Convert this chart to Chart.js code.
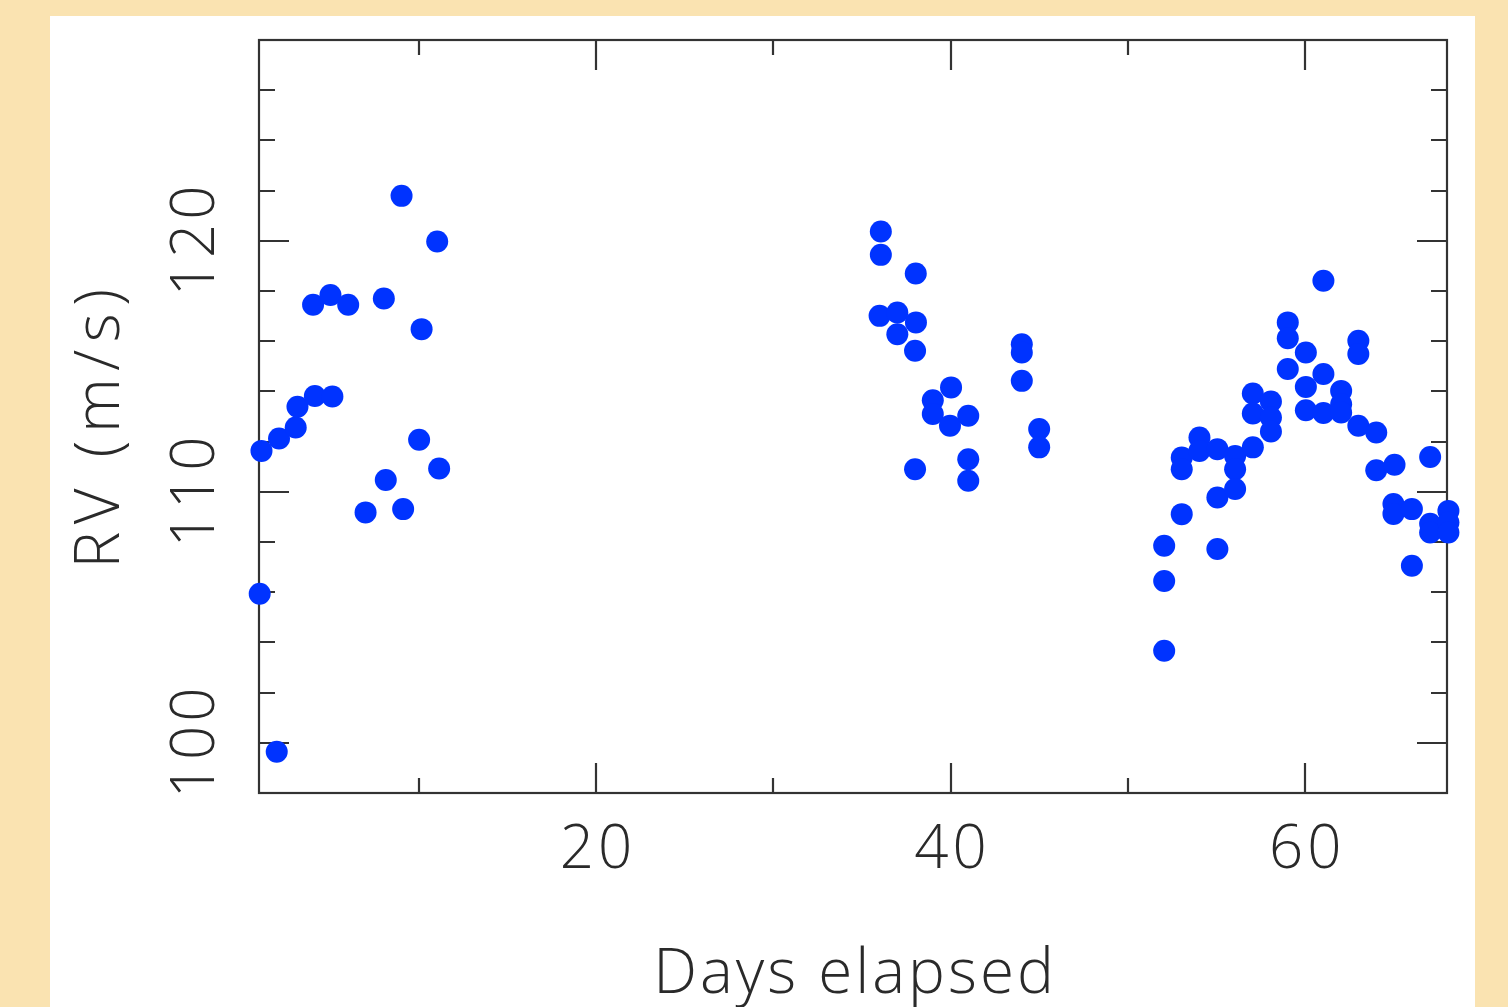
<!DOCTYPE html>
<html>
<head>
<meta charset="utf-8">
<script src="https://cdn.jsdelivr.net/npm/chart.js@4.4.1/dist/chart.umd.min.js"></script>
<style>
  html, body { margin: 0; padding: 0; }
  body { width: 1508px; height: 1007px; background: #fae3b1; position: relative; overflow: hidden; }
  #panel { position: absolute; left: 50px; top: 16px; width: 1425px; height: 991px; background: #ffffff; }
  #rvChart { position: absolute; left: 0; top: 0; }
</style>
</head>
<body>
<div id="panel"></div>
<canvas id="rvChart" width="1508" height="1007"></canvas>
<script>
// days elapsed for each observation
const days = [
  1.14, 1.04, 2.0, 2.13, 3.07, 3.17, 4.05, 4.15, 5.03, 5.14,
  6.03, 7.01, 8.04, 8.15, 9.04, 9.13, 10.03, 10.17, 11.05, 11.16,
  36.07, 36.07, 38.04, 36.0, 37.0, 38.05, 37.0, 38.0, 44.02, 44.02,
  44.02, 40.03, 39.0, 39.0, 39.97, 41.0, 45.0, 45.0, 41.0, 41.0,
  38.0,
  52.05, 52.05, 52.05, 53.04, 53.04, 53.04, 54.04, 54.04, 55.05, 55.05,
  55.05, 56.05, 56.05, 56.05, 57.05, 57.05, 57.05, 58.07, 58.07, 58.07,
  59.02, 59.02, 59.02, 60.04, 60.04, 60.04, 61.03, 61.03, 61.03, 62.03,
  62.03, 62.03, 63.0, 63.0, 63.0, 64.01, 64.01, 65.04, 64.98, 64.98,
  66.02, 66.02, 67.05, 67.05, 67.05, 68.08, 68.08, 68.08
];

// radial velocity (m/s)
const rv = [
  111.63, 105.94, 99.64, 112.12, 112.56, 113.39, 117.45, 113.82, 117.84, 113.80,
  117.45, 109.18, 117.70, 110.47, 121.79, 109.31, 112.07, 116.48, 119.97, 110.93,
  120.37, 119.44, 118.70, 117.01, 117.14, 116.75, 116.28, 115.62, 115.88, 115.55,
  114.42, 114.16, 113.65, 113.10, 112.63, 113.03, 112.50, 111.77, 111.30, 110.44,
  110.90,
  107.85, 106.45, 103.67, 111.37, 110.90, 109.11, 112.16, 111.63, 111.70, 109.77,
  107.72, 111.43, 110.90, 110.11, 113.92, 113.12, 111.77, 113.60, 112.96, 112.40,
  116.75, 116.12, 114.89, 115.55, 114.18, 113.25, 118.41, 114.69, 113.14, 114.02,
  113.49, 113.16, 116.02, 115.49, 112.63, 112.36, 110.86, 111.08, 109.51, 109.12,
  109.31, 107.05, 111.39, 108.73, 108.38, 109.24, 108.78, 108.38
];

const xLabels = [20, 40, 60];
const yLabels = [100, 110, 120];

const points = days.map((d, i) => ({ x: d, y: rv[i] }));

const labelFont = '300 60px "Open Sans", "Liberation Sans", sans-serif';
const inkColor = '#2a2a2a';

// frame, inward ticks and rotated labels (PGPLOT look)
const framePlugin = {
  id: 'frame',
  beforeDatasetsDraw(chart) {
    const ctx = chart.ctx;
    const a = chart.chartArea;
    const xs = chart.scales.x;
    const ys = chart.scales.y;
    ctx.save();
    ctx.strokeStyle = '#333333';
    ctx.lineWidth = 2.2;
    ctx.strokeRect(a.left, a.top, a.right - a.left, a.bottom - a.top);

    ctx.beginPath();
    ys.ticks.forEach(t => {
      if (t.value % 2 !== 0) return;
      const py = Math.round(ys.getPixelForValue(t.value));
      const len = t.value % 10 === 0 ? 30 : 16;
      ctx.moveTo(a.left, py); ctx.lineTo(a.left + len, py);
      ctx.moveTo(a.right, py); ctx.lineTo(a.right - len, py);
    });
    xs.ticks.forEach(t => {
      if (t.value % 10 !== 0) return;
      const px = Math.round(xs.getPixelForValue(t.value));
      const len = t.value % 20 === 0 ? 30 : 15;
      ctx.moveTo(px, a.bottom); ctx.lineTo(px, a.bottom - len);
      ctx.moveTo(px, a.top); ctx.lineTo(px, a.top + len);
    });
    ctx.stroke();

    ctx.fillStyle = inkColor;
    ctx.font = labelFont;
    ctx.letterSpacing = '4px';
    ctx.textAlign = 'center';
    ctx.textBaseline = 'middle';
    xLabels.forEach(v => {
      ctx.fillText(String(v), xs.getPixelForValue(v) + 2, 851);
    });
    yLabels.forEach(v => {
      ctx.save();
      ctx.translate(197, ys.getPixelForValue(v) - 2);
      ctx.rotate(-Math.PI / 2);
      ctx.fillText(String(v), 0, 0);
      ctx.restore();
    });

    ctx.font = '300 62px "Open Sans", "Liberation Sans", sans-serif';
    ctx.letterSpacing = '3px';
    ctx.fillText('Days elapsed', 855, 975);
    ctx.letterSpacing = '7.5px';
    ctx.save();
    ctx.translate(101, 425);
    ctx.rotate(-Math.PI / 2);
    ctx.fillText('RV (m/s)', 0, 0);
    ctx.restore();
    ctx.restore();
  }
};

const ctx = document.getElementById('rvChart').getContext('2d');

const rvChart = new Chart(ctx, {
  type: 'scatter',
  data: {
    datasets: [{
      label: 'RV',
      data: points,
      backgroundColor: '#0033ff',
      borderWidth: 0,
      pointRadius: 11,
      pointHoverRadius: 11,
      clip: false
    }]
  },
  options: {
    responsive: false,
    animation: false,
    devicePixelRatio: 1,
    layout: {
      padding: { left: 259, top: 40, right: 61, bottom: 214 }
    },
    plugins: {
      legend: { display: false },
      tooltip: { enabled: false }
    },
    scales: {
      x: {
        type: 'linear',
        display: false,
        min: 1,
        max: 68,
        ticks: { stepSize: 10 }
      },
      y: {
        type: 'linear',
        display: false,
        min: 98,
        max: 128,
        ticks: { stepSize: 2 }
      }
    }
  },
  plugins: [framePlugin]
});
</script>
</body>
</html>
